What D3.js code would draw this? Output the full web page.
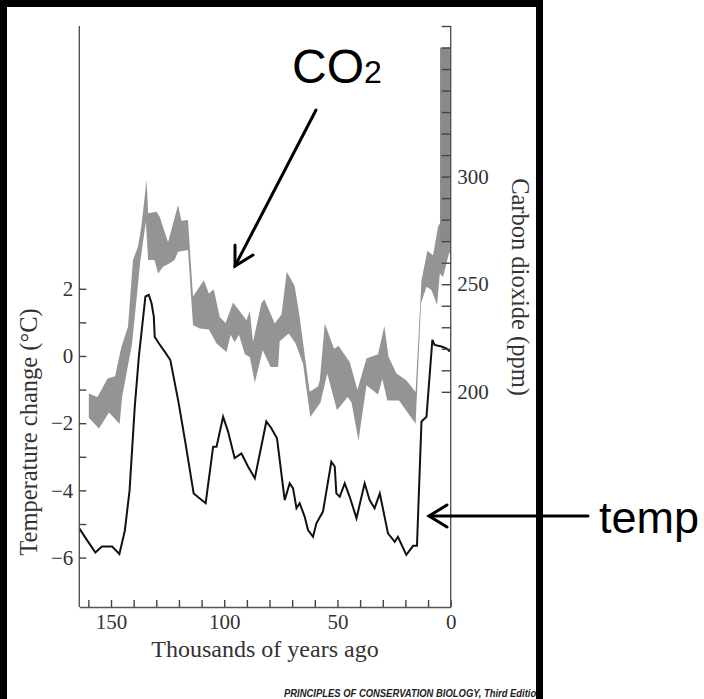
<!DOCTYPE html>
<html>
<head>
<meta charset="utf-8">
<script src="https://cdn.jsdelivr.net/npm/d3@7"></script>
<style>
  html, body { margin: 0; padding: 0; background: #fff; }
  svg { display: block; }
</style>
</head>
<body>
<script>
// Temperature change (°C) by age (thousands of years ago)
const tempAge = [164.0,160.6,156.9,154.0,149.5,146.3,143.9,141.8,139.5,137.7,134.8,133.3,132.1,131.1,130.7,128.9,126.3,123.8,120.1,117.1,113.5,110.8,108.2,104.9,103.4,100.5,98.3,95.4,92.4,89.5,86.5,81.4,79.2,76.7,73.3,71.1,69.6,68.1,66.7,64.5,63.0,60.8,59.3,56.4,52.7,51.2,50.5,49.0,46.8,44.6,41.6,38.0,35.8,33.6,31.3,27.7,24.7,23.3,19.6,16.6,14.9,12.9,10.7,8.1,7.1,4.1,1.9,0.4];
const tempValue = [-5.13,-5.48,-5.85,-5.67,-5.67,-5.89,-5.20,-4.00,-1.50,-0.02,1.77,1.82,1.57,1.17,0.57,0.38,0.13,-0.12,-1.41,-2.60,-4.09,-4.24,-4.38,-2.70,-2.70,-1.81,-2.25,-3.04,-2.90,-3.29,-3.64,-1.95,-2.15,-2.45,-4.29,-3.79,-3.94,-4.53,-4.38,-4.78,-5.18,-5.38,-4.98,-4.63,-3.15,-3.29,-4.09,-4.19,-3.79,-4.19,-4.83,-3.79,-4.29,-4.53,-4.09,-5.28,-5.53,-5.38,-5.92,-5.65,-5.65,-1.95,-1.81,0.48,0.33,0.28,0.23,0.13];

// Carbon dioxide range (ppm): upper and lower edges of the band
const co2UpperAge = [159.8,156.0,151.5,148.2,145.4,142.5,140.3,138.1,136.6,134.3,133.6,129.9,128.5,124.8,120.4,118.9,116.0,113.8,109.0,106.8,104.6,102.0,99.4,96.1,92.4,90.2,88.7,87.3,83.6,82.3,77.7,74.7,72.4,68.9,66.7,62.3,58.6,57.8,55.6,51.5,49.5,44.6,41.2,37.2,32.1,29.3,27.5,24.0,19.6,15.5,12.9,10.3,7.8,5.6,4.8,3.4,0.75,0];
const co2Upper = [199.2,197.6,206.2,207.2,220.9,230.2,261.2,267.4,276.7,298.5,283.0,283.7,281.4,269.5,286.8,279.5,279.8,244.3,251.9,245.7,247.7,234.8,232.0,241.5,236.4,233.3,237.5,223.2,241.1,243.0,231.8,236.0,255.8,249.2,234.8,200.0,202.5,205.4,231.8,220.0,221.3,213.9,201.0,215.5,217.5,230.6,216.5,208.5,205.4,199.9,251.9,265.5,263.5,276.7,278.3,270.5,273.6,274.0];
const co2LowerAge = [159.8,155.3,150.9,146.2,145.1,140.7,137.0,134.6,133.6,130.8,129.2,127.0,124.1,121.9,120.4,116.0,113.8,110.8,106.8,103.4,99.0,97.2,95.4,93.5,90.9,88.7,86.5,83.0,79.5,76.2,75.5,71.5,68.5,65.2,62.0,57.5,54.5,50.2,45.5,43.8,40.7,37.2,32.1,30.2,28.0,22.8,15.5,13.1,10.7,8.5,6.0,4.8,3.4,0.75,0];
const co2Lower = [188.0,183.0,190.4,185.0,197.6,222.4,261.2,279.0,261.2,261.2,255.0,258.1,259.7,261.2,265.1,265.9,231.0,229.4,229.0,222.5,218.5,226.5,223.0,226.5,217.5,216.2,204.2,219.3,211.5,211.5,223.5,227.1,222.5,213.1,188.3,195.0,208.5,191.4,197.6,195.0,177.4,203.0,198.8,206.0,196.0,196.0,185.2,241.1,248.8,247.3,240.3,255.0,253.4,264.3,265.0];

// Recent (instrumental-era) rise in carbon dioxide
const recentAge = [4.7, 0];
const recentCO2 = [270, 360];

// Axis ticks and labels
const ageTicks = [160,150,140,130,120,110,100,90,80,70,60,50,40,30,20,10,0];
const ageLabels = [150,100,50,0];
const tempTicks = [2,1,0,-1,-2,-3,-4,-5,-6];
const tempLabels = [2,0,-2,-4,-6];
const co2Ticks = [200,210,220,230,240,250,260,270,280,290,300,310,320,330,340,350,360,370];
const co2Labels = [200,250,300];

const W = 704, H = 699;
const svg = d3.select("body").append("svg").attr("width", W).attr("height", H);
svg.append("rect").attr("width", W).attr("height", H).attr("fill", "#fff");

const L = 79.3, R = 450.7, T = 26, B = 607;
const x = d3.scaleLinear().domain([164, 0]).range([L, R]);
const yTemp = d3.scaleLinear().domain([-7.47, 9.82]).range([B, T]);
const yCO2 = d3.scaleLinear().domain([100, 370]).range([B, T]);

const serif = "'Liberation Serif', 'Times New Roman', serif";
const sans = "'Liberation Sans', Arial, sans-serif";

// CO2 band as a closed polygon: upper edge left to right, lower edge back
const upperPts = co2UpperAge.map((a, i) => ({age: a, ppm: co2Upper[i]}));
const lowerPts = co2LowerAge.map((a, i) => ({age: a, ppm: co2Lower[i]})).reverse();
const bandLine = d3.line().x(d => x(d.age)).y(d => yCO2(d.ppm)).curve(d3.curveLinearClosed);
svg.append("path")
  .attr("d", bandLine(upperPts.concat(lowerPts)))
  .attr("fill", "#949494");

// Recent CO2 bar
svg.append("rect")
  .attr("x", x(recentAge[0]))
  .attr("width", x(recentAge[1]) - x(recentAge[0]))
  .attr("y", yCO2(recentCO2[1]))
  .attr("height", yCO2(recentCO2[0]) - yCO2(recentCO2[1]))
  .attr("fill", "#8a8a8a");

// Temperature line
const tempLine = d3.line().x(d => x(d.age)).y(d => yTemp(d.t));
svg.append("path")
  .attr("d", tempLine(tempAge.map((a, i) => ({age: a, t: tempValue[i]}))))
  .attr("fill", "none")
  .attr("stroke", "#111")
  .attr("stroke-width", 2)
  .attr("stroke-linejoin", "miter");

// Axes
const fmt = d3.format("d");
function styleAxis(g) {
  g.select(".domain").attr("stroke", "#555").attr("stroke-width", 1.4);
  g.selectAll(".tick line").attr("stroke", "#444").attr("stroke-width", 1.4);
  g.selectAll(".tick text").attr("fill", "#333").style("font-family", serif).style("font-size", "21px");
}

const xAxis = d3.axisBottom(x).tickValues(ageTicks).tickSizeInner(-7).tickSizeOuter(0).tickPadding(7.5)
  .tickFormat(d => ageLabels.includes(d) ? fmt(d) : "");
svg.append("g").attr("transform", `translate(0,${B})`).call(xAxis).call(styleAxis);

const yLeft = d3.axisLeft(yTemp).tickValues(tempTicks).tickSizeInner(-7).tickSizeOuter(0).tickPadding(6)
  .tickFormat(d => tempLabels.includes(d) ? fmt(d) : "");
const gLeft = svg.append("g").attr("transform", `translate(${L},0)`).call(yLeft).call(styleAxis);
gLeft.select(".domain").attr("d", `M0,${B}V${T}`);

const yRight = d3.axisRight(yCO2).tickValues(co2Ticks).tickSizeInner(-9).tickSizeOuter(0).tickPadding(6.5)
  .tickFormat(d => co2Labels.includes(d) ? fmt(d) : "");
const gRight = svg.append("g").attr("transform", `translate(${R},0)`).call(yRight).call(styleAxis);
gRight.select(".domain").attr("d", `M0,${B}V${T}`);

// Axis titles
svg.append("text")
  .attr("transform", "translate(265,657)")
  .attr("text-anchor", "middle")
  .style("font-family", serif).style("font-size", "24px").attr("fill", "#333")
  .text("Thousands of years ago");

svg.append("text")
  .attr("transform", "translate(37,432) rotate(-90)")
  .attr("text-anchor", "middle")
  .style("font-family", serif).style("font-size", "24.5px").attr("fill", "#333")
  .text("Temperature change (°C)");

svg.append("text")
  .attr("transform", "translate(512,287) rotate(90)")
  .attr("text-anchor", "middle")
  .style("font-family", serif).style("font-size", "24.5px").attr("fill", "#333")
  .text("Carbon dioxide (ppm)");

// Annotations
const co2Text = svg.append("text")
  .attr("x", 292).attr("y", 83)
  .style("font-family", sans).attr("fill", "#000");
co2Text.append("tspan").style("font-size", "48px").text("CO");
co2Text.append("tspan").style("font-size", "32px").text("2");

const ann = svg.append("g").attr("stroke", "#000").attr("stroke-width", 3).attr("fill", "none")
  .attr("stroke-linecap", "round").attr("stroke-linejoin", "miter");
ann.append("line").attr("x1", 316).attr("y1", 110).attr("x2", 235).attr("y2", 266);
ann.append("polyline").attr("points", "235,245 235,266 253,255");

ann.append("line").attr("x1", 588).attr("y1", 516).attr("x2", 429).attr("y2", 516);
ann.append("polyline").attr("points", "447,505 429,516 447,527");

svg.append("text")
  .attr("x", 599).attr("y", 533)
  .style("font-family", sans).style("font-size", "45px").attr("fill", "#000")
  .text("temp");

// Source credit
svg.append("text")
  .attr("x", 284).attr("y", 697)
  .attr("textLength", 258).attr("lengthAdjust", "spacingAndGlyphs")
  .style("font-family", sans).style("font-size", "11.5px")
  .style("font-weight", "bold").style("font-style", "italic").attr("fill", "#222")
  .text("PRINCIPLES OF CONSERVATION BIOLOGY, Third Edition");

// Frame
svg.append("path")
  .attr("d", `M3.5,${H + 10}V3.5H539.5V${H + 10}`)
  .attr("fill", "none").attr("stroke", "#000").attr("stroke-width", 7);
</script>
</body>
</html>
